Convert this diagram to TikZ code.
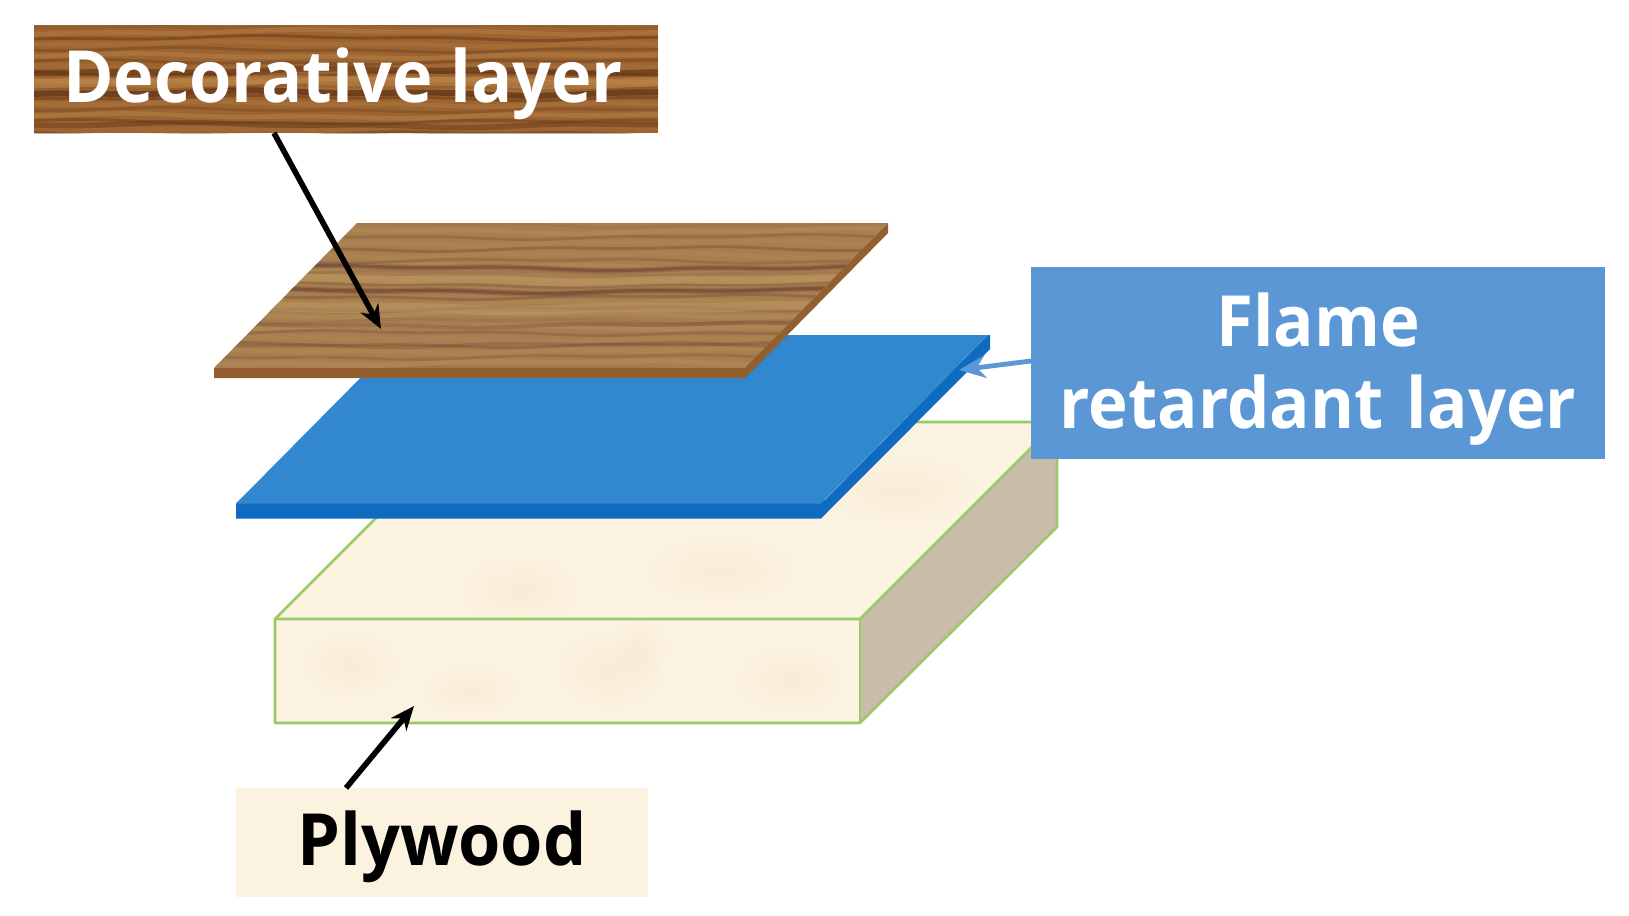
\documentclass[tikz,border=0pt]{standalone}
\usepackage{fontspec}
\setmainfont{Open Sans}[FakeStretch=0.95,BoldFont={Open Sans Bold}]
\usetikzlibrary{arrows.meta,fadings}
\definecolor{woodA}{HTML}{9C6430}
\definecolor{woodDark}{HTML}{5A2E14}
\definecolor{woodLight}{HTML}{C08A4E}
\definecolor{sheetA}{HTML}{A87E50}
\definecolor{sheetDark}{HTML}{6B4233}
\definecolor{sheetLight}{HTML}{BC9A60}
\definecolor{sheetEdge}{HTML}{935F2E}
\definecolor{blueFace}{HTML}{3288CE}
\definecolor{blueEdge}{HTML}{0E6BBF}
\definecolor{labelBlue}{HTML}{5B97D5}
\definecolor{plyFace}{HTML}{FCF2E0}
\definecolor{plyBlot}{HTML}{F5E9CF}
\definecolor{plySide}{HTML}{C9BCA8}
\definecolor{plyLine}{HTML}{98CB68}
\tikzset{
  labeltext/.style={font=\bfseries\fontsize{54pt}{60pt}\selectfont,align=center,inner sep=0pt,text height=40pt,text depth=12pt},
  blackarrow/.style={draw=black,line width=4.2pt,-{Stealth[length=18pt,width=15pt]}},
  bluearrow/.style={draw=labelBlue,line width=3.6pt,-{Stealth[length=20pt,width=17pt]}},
  plyedge/.style={draw=plyLine,line width=1.9pt,line join=round},
  blot/.style={fill=plyBlot,path fading=softspot,fill opacity=.6}
}
\tikzfading[name=softspot,inner color=transparent!0,outer color=transparent!100]
% wavy wood stripe: x0,x1,y,colour,width,opacity,phase
\newcommand{\woodstripe}[7]{%
  \draw[#4,line width=#5pt,opacity=#6]
    plot[domain=#1:#2,samples=40,smooth] (\x,{#3+1.6*sin(\x*0.7+#7)+1.0*sin(\x*1.9+2*#7)});}
\begin{document}
\begin{tikzpicture}[x=0.75pt,y=-0.75pt]
\useasboundingbox (0,0) rectangle (1629,915);
\fill[white] (0,0) rectangle (1629,915);

% ---------- plywood block
\fill[plyFace] (275,619) -- (472,422) -- (1057,422) -- (860,619) -- cycle;
\fill[plyFace] (275,619) rectangle (860,723);
\fill[plySide] (860,619) -- (1057,422) -- (1057,527) -- (860,723) -- cycle;
\begin{scope}
  \clip (275,619) -- (472,422) -- (1057,422) -- (860,723) -- (275,723) -- cycle;
  \foreach \cx/\cy/\rx/\ry in {520/590/55/30,720/570/70/30,610/670/50/35,470/690/45/22,790/680/50/30,350/665/45/30,900/490/70/30,640/650/25/30}{
    \fill[blot] (\cx,\cy) ellipse[x radius=\rx,y radius=\ry];
  }
\end{scope}
\draw[plyedge] (275,619) -- (472,422) -- (1057,422) -- (1057,527) -- (860,723) -- (275,723) -- cycle;
\draw[plyedge] (275,619) -- (860,619) -- (1057,422);
\draw[plyedge] (860,619) -- (860,723);

% ---------- blue sheet
\fill[blueEdge] (236,503.5) -- (240,500) -- (825,500) -- (988,335) -- (990,335) -- (990,349) -- (821,518.5) -- (236,518.5) -- cycle;
\fill[blueFace] (236,503.5) -- (403,335) -- (988,335) -- (821,503.5) -- cycle;

% ---------- wood sheet
\begin{scope}
  \clip (214,368) -- (357,223) -- (888,223) -- (745,368) -- cycle;
  \fill[sheetA] (200,215) rectangle (900,380);
  \foreach \i in {0,...,24}{
    \pgfmathsetmacro{\yy}{225+\i*6}
    \pgfmathsetmacro{\op}{0.10+0.22*abs(sin(\i*67))}
    \pgfmathsetmacro{\ph}{\i*41}
    \ifodd\i
      \woodstripe{200}{900}{\yy}{sheetLight}{3.4}{\op}{\ph}
    \else
      \woodstripe{200}{900}{\yy}{sheetDark}{2.2}{\op}{\ph}
    \fi
  }
  \woodstripe{200}{900}{268}{sheetDark}{4.5}{.25}{10}
  \woodstripe{200}{900}{268}{sheetDark}{2.4}{.55}{10}
  \woodstripe{200}{900}{291}{sheetDark}{4.5}{.3}{70}
  \woodstripe{200}{900}{291}{sheetDark}{2.4}{.6}{70}
  \woodstripe{200}{900}{325}{sheetDark}{3}{.3}{130}
  \woodstripe{200}{900}{345}{sheetDark}{2.6}{.25}{200}
  \woodstripe{200}{900}{280}{sheetLight}{6}{.55}{40}
  \woodstripe{200}{900}{308}{sheetLight}{7}{.5}{95}
\end{scope}
\fill[sheetEdge] (214,368) -- (745,368) -- (888,223) -- (888,233) -- (745,378) -- (214,378) -- cycle;

% ---------- decorative label background
\begin{scope}
  \clip (34,25) rectangle (658,133);
  \fill[woodA] (34,25) rectangle (658,133);
  \foreach \i in {0,...,18}{
    \pgfmathsetmacro{\yy}{26+\i*6}
    \pgfmathsetmacro{\op}{0.12+0.3*abs(sin(\i*53))}
    \pgfmathsetmacro{\ph}{\i*37}
    \ifodd\i
      \woodstripe{30}{660}{\yy}{woodLight}{3.4}{\op}{\ph}
    \else
      \woodstripe{30}{660}{\yy}{woodDark}{2.2}{\op}{\ph}
    \fi
  }
  \woodstripe{30}{660}{71}{woodDark}{4.5}{.55}{15}
  \woodstripe{30}{660}{93}{woodDark}{4.5}{.7}{80}
  \woodstripe{30}{660}{125}{woodDark}{4}{.4}{140}
  \woodstripe{30}{660}{82}{woodLight}{7}{.55}{50}
\end{scope}

% ---------- label nodes
\node[labeltext,text=white,minimum width=468pt,minimum height=81pt] (deco) at (343,84) {Decorative layer};
\node[fill=labelBlue,minimum width=430.5pt,minimum height=144pt,inner sep=0pt] (flame) at (1318,363) {};
\node[labeltext,text height=,text depth=,text=white,text width=430pt,font=\bfseries\fontsize{53pt}{61pt}\selectfont] (flametext) at (1318,369) {Flame\\retardant layer};
\node[fill=plyFace,minimum width=309pt,minimum height=82pt,inner sep=0pt] (ply) at (442,842.5) {};
\node[labeltext,text=black] (plytext) at (442,847) {Plywood};

% ---------- connectors
\coordinate (decoTail) at (274,133);
\coordinate (decoTip) at (381,329);
\coordinate (flameTail) at (1031,361);
\coordinate (flameTip) at (959,370);
\coordinate (plyTail) at (346,788);
\coordinate (plyTip) at (414,706);
\draw[blackarrow] (decoTail) -- (decoTip);
\draw[bluearrow] (flameTail) -- (flameTip);
\draw[blackarrow] (plyTail) -- (plyTip);
\end{tikzpicture}
\end{document}
